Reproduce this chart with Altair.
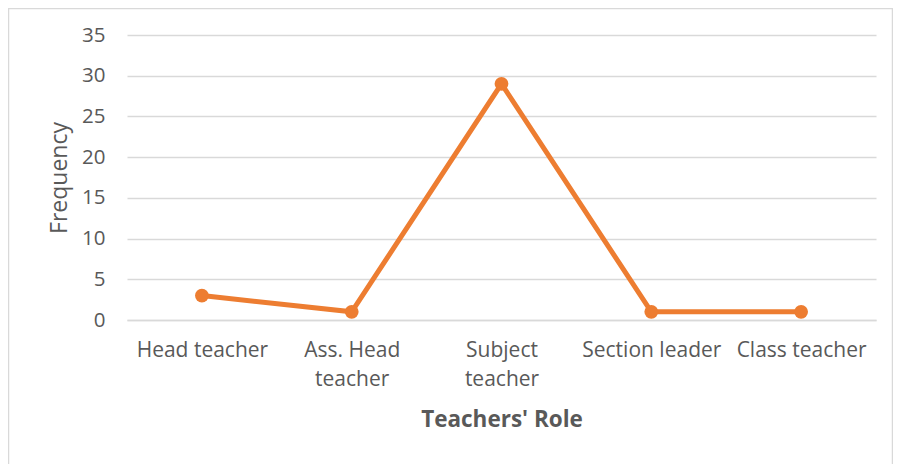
import altair as alt
import pandas as pd

roles = ["Head teacher", "Ass. Head teacher", "Subject teacher", "Section leader", "Class teacher"]
frequency = [3, 1, 29, 1, 1]
y_ticks = [0, 5, 10, 15, 20, 25, 30, 35]

df = pd.DataFrame({"role": roles, "freq": frequency})

FONT = "Open Sans"
TXT = "#595959"
GRID = "#D9D9D9"
ORANGE = "#ED7D31"

label_expr = ("datum.label == 'Ass. Head teacher' ? ['Ass. Head', 'teacher'] : "
              "datum.label == 'Subject teacher' ? ['Subject', 'teacher'] : datum.label")

x = alt.X("role:N", sort=roles,
          scale=alt.Scale(type="point", padding=0.5),
          axis=alt.Axis(title="Teachers' Role", labelAngle=0, labelExpr=label_expr,
                        labelFont=FONT, labelFontSize=21, labelColor=TXT,
                        labelPadding=19, labelLineHeight=29,
                        titleFont=FONT, titleFontSize=22.5, titleFontWeight="bold",
                        titleColor=TXT, titlePadding=19,
                        domainColor=GRID, domainWidth=1.3, ticks=False, grid=False))
y = alt.Y("freq:Q",
          scale=alt.Scale(domain=[0, 35], nice=False),
          axis=alt.Axis(title="Frequency", values=y_ticks,
                        labelFont=FONT, labelFontSize=20.5, labelColor=TXT, labelPadding=22,
                        titleFont=FONT, titleFontSize=23, titleFontWeight="normal",
                        titleColor=TXT, titlePadding=10,
                        domain=False, ticks=False, gridColor=GRID, gridWidth=1.3))

line = alt.Chart(df).mark_line(color=ORANGE, strokeWidth=5).encode(x=x, y=y)
pts = alt.Chart(df).mark_point(color=ORANGE, filled=True, opacity=1, size=190).encode(x=x, y=y)

frame = alt.Chart(alt.Data(values=[{}])).mark_rect(
    fill=None, stroke="#D9D9D9", strokeWidth=1.5
).encode(x=alt.value(-118.5), x2=alt.value(765.5), y=alt.value(-26.5), y2=alt.value(500))

chart = alt.layer(frame, line, pts).properties(
    width=749, height=285,
    autosize=alt.AutoSizeParams(type="none"),
    padding={"left": 119, "top": 27, "right": 17, "bottom": 150},
).configure_view(stroke=None)

chart.save("out.html", embed_options={"renderer": "svg", "actions": False})
